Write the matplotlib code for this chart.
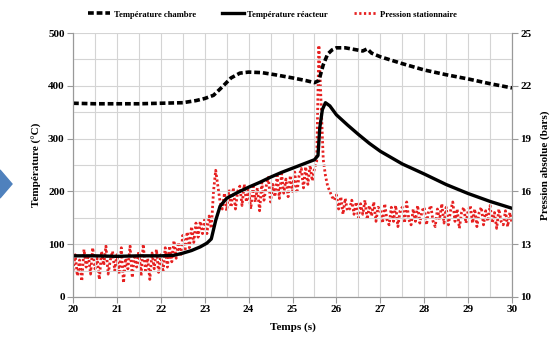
import numpy as np
import matplotlib.pyplot as plt
from matplotlib.patches import Polygon

# Temperature chambre (dashed)
t_chambre = [20.0, 20.5, 21.0, 21.5, 22.0, 22.5, 22.8, 23.0, 23.2, 23.4, 23.6, 23.8, 24.0,
             24.3, 24.6, 25.0, 25.3, 25.5, 25.6, 25.7, 25.8, 25.9, 26.0, 26.2, 26.4, 26.6,
             26.7, 26.8, 27.0, 27.5, 28.0, 28.5, 29.0, 29.5, 30.0]
T_chambre = [367, 366, 366, 366, 367, 368, 372, 376, 382, 398, 415, 424, 426,
             425, 421, 415, 410, 406, 410, 440, 460, 468, 472, 472, 469, 466,
             470, 462, 455, 442, 430, 421, 413, 404, 396]

# Temperature reacteur (solid)
t_reacteur = [20.0, 20.5, 21.0, 21.5, 22.0, 22.3, 22.5, 22.7, 22.9, 23.05, 23.15, 23.25,
              23.35, 23.5, 23.75, 24.0, 24.25, 24.5, 24.75, 25.0, 25.25, 25.5, 25.58,
              25.62, 25.68, 25.75, 25.85, 26.0, 26.25, 26.5, 26.75, 27.0, 27.5, 28.0,
              28.5, 29.0, 29.5, 30.0]
T_reacteur = [78, 78, 77, 78, 78, 79, 83, 88, 95, 102, 110, 145,
              172, 187, 198, 208, 217, 227, 236, 244, 252, 260, 268,
              320, 355, 368, 362, 345, 326, 308, 291, 276, 252, 233,
              213, 196, 181, 168]

# Pression stationnaire (bars), sampled every 0.05 s from 20 to 30
t_pression = np.linspace(20, 30, 201)
p_pression = [
    11.5, 12.4, 11.2, 12.1, 10.9, 12.7, 11.7, 12.4, 11.3, 12.8, 11.6, 12.2, 11.0, 12.6, 11.8, 12.9, 11.3, 12.1, 12.6, 11.5,
    12.4, 11.3, 12.8, 10.8, 12.2, 11.6, 12.9, 11.1, 12.4, 11.7, 12.6, 11.2, 13.0, 11.5, 12.2, 11.0, 12.5, 11.6, 12.7, 11.4,
    12.4, 11.4, 12.8, 11.7, 12.9, 12.0, 13.2, 12.2, 13.1, 12.3, 13.5, 12.6, 13.7, 12.8, 14.0, 13.1, 14.2, 13.4, 14.3, 13.6,
    14.4, 13.6, 14.6, 13.9, 16.0, 17.2, 16.3, 15.4, 15.0, 15.9, 14.9, 16.1, 15.1, 16.2, 15.0, 16.0, 16.3, 15.2, 16.4, 15.4,
    16.1, 15.0, 16.4, 15.4, 16.2, 14.9, 16.5, 15.5, 16.3, 16.8, 15.4, 16.4, 15.7, 16.9, 15.6, 17.0, 15.9, 16.7, 15.7, 16.9,
    16.0, 17.1, 15.9, 16.9, 17.3, 16.2, 17.4, 16.4, 17.5, 16.6, 17.3, 17.7, 24.3, 21.0, 17.8, 16.9, 16.3, 16.0, 15.7, 15.5,
    15.8, 15.0, 15.7, 14.7, 15.6, 14.9, 15.0, 15.5, 14.7, 15.4, 14.5, 15.3, 14.7, 15.5, 14.4, 15.2, 14.6, 15.4, 14.3, 15.1,
    15.0, 14.2, 15.3, 14.4, 14.1, 15.1, 14.3, 15.2, 14.0, 14.9, 15.1, 14.2, 15.4, 14.4, 14.1, 15.0, 14.3, 15.2, 14.2, 14.9,
    15.1, 14.1, 14.9, 15.2, 14.3, 14.0, 15.0, 14.4, 15.3, 14.2, 15.1, 14.1, 14.9, 15.4, 14.3, 15.0, 13.9, 14.8, 15.1, 14.2,
    14.9, 15.2, 14.2, 15.0, 14.0, 14.8, 15.1, 14.1, 14.9, 14.3, 15.2, 14.2, 14.8, 13.9, 15.0, 14.3, 14.1, 14.9, 14.0, 14.8, 14.2,
]

plt.rcParams['font.family'] = ['Liberation Serif', 'DejaVu Serif']
plt.rcParams['font.weight'] = 'bold'

fig = plt.figure(figsize=(5.59, 3.37), dpi=100)
ax = fig.add_axes([0.1306, 0.1187, 0.7854, 0.7833])
ax2 = ax.twinx()

grid_c = '#d4d4d4'
ax.set_xlim(20, 30)
ax.set_ylim(0, 500)
ax2.set_ylim(10, 25)
ax.set_xticks(np.arange(20, 31, 1))
ax.set_xticks(np.arange(20, 30.01, 0.5), minor=True)
ax.set_yticks(np.arange(0, 501, 100))
ax.set_yticks(np.arange(0, 501, 50), minor=True)
ax2.set_yticks(np.arange(10, 26, 3))
ax.grid(True, which='both', color=grid_c, lw=0.8)
ax.tick_params(which='minor', length=0)
ax.tick_params(which='major', length=4, color='#999999', labelsize=8, pad=2)
ax2.tick_params(length=4, color='#999999', labelsize=8, pad=2)
for a in (ax, ax2):
    for s in a.spines.values():
        s.set_color('#999999')
    a.spines['top'].set_visible(False)

l3, = ax2.plot(t_pression, p_pression, color='#e62020', ls=(0, (0.8, 0.9)), lw=2.0,
               label='Pression stationnaire')
l1, = ax.plot(t_chambre, T_chambre, color='black', ls=(0, (1.6, 0.8)), lw=2.6,
              label='Température chambre')
l2, = ax.plot(t_reacteur, T_reacteur, color='black', lw=2.4,
              label='Température réacteur')

# temperature axes on top so black curves cover the red dots
ax2.set_zorder(0)
ax.set_zorder(1)
ax.patch.set_visible(False)

ax.set_xlabel('Temps (s)', fontsize=8, fontweight='bold', labelpad=6)
ax.set_ylabel('Température (°C)', fontsize=8, fontweight='bold', labelpad=4)
ax2.set_ylabel('Pression absolue (bars)', fontsize=8, fontweight='bold', labelpad=6)

fig.legend(handles=[l1, l2, l3], loc='center', bbox_to_anchor=(0.487, 0.957), ncol=3,
           frameon=False, fontsize=6.2, handlelength=2.6, handletextpad=0.4,
           columnspacing=3.0)

# blue arrow tip on the left edge
fig.patches.append(Polygon([[0, 1 - 170 / 337], [12 / 559, 1 - 184 / 337],
                            [0, 1 - 198 / 337]], closed=True,
                           transform=fig.transFigure, color='#4f81bd'))

fig.savefig('out.png', dpi=100)
